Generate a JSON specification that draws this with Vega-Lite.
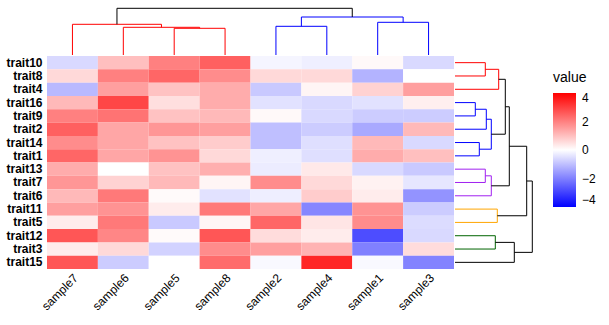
{
  "$schema": "https://vega.github.io/schema/vega-lite/v6.json",
  "padding": {"left": 5, "top": 7, "right": 0, "bottom": 0},
  "config": {"view": {"stroke": null}, "font": "Liberation Sans"},
  "columns": 2,
  "spacing": 0,
  "datasets": {
    "heat": [
      {"trait":"trait10","sample":"sample7","value":-0.6},{"trait":"trait10","sample":"sample6","value":1.0},{"trait":"trait10","sample":"sample5","value":2.0},{"trait":"trait10","sample":"sample8","value":2.5},{"trait":"trait10","sample":"sample2","value":-0.15},{"trait":"trait10","sample":"sample4","value":-0.25},{"trait":"trait10","sample":"sample1","value":0.1},{"trait":"trait10","sample":"sample3","value":-0.6},
      {"trait":"trait8","sample":"sample7","value":0.6},{"trait":"trait8","sample":"sample6","value":2.0},{"trait":"trait8","sample":"sample5","value":2.4},{"trait":"trait8","sample":"sample8","value":1.8},{"trait":"trait8","sample":"sample2","value":0.6},{"trait":"trait8","sample":"sample4","value":0.6},{"trait":"trait8","sample":"sample1","value":-1.2},{"trait":"trait8","sample":"sample3","value":0},
      {"trait":"trait4","sample":"sample7","value":-1.1},{"trait":"trait4","sample":"sample6","value":1.5},{"trait":"trait4","sample":"sample5","value":0.95},{"trait":"trait4","sample":"sample8","value":1.3},{"trait":"trait4","sample":"sample2","value":-0.85},{"trait":"trait4","sample":"sample4","value":0.15},{"trait":"trait4","sample":"sample1","value":0.7},{"trait":"trait4","sample":"sample3","value":1.5},
      {"trait":"trait16","sample":"sample7","value":1.1},{"trait":"trait16","sample":"sample6","value":2.9},{"trait":"trait16","sample":"sample5","value":0.5},{"trait":"trait16","sample":"sample8","value":1.3},{"trait":"trait16","sample":"sample2","value":-0.45},{"trait":"trait16","sample":"sample4","value":-0.6},{"trait":"trait16","sample":"sample1","value":-0.45},{"trait":"trait16","sample":"sample3","value":0.25},
      {"trait":"trait9","sample":"sample7","value":2.0},{"trait":"trait9","sample":"sample6","value":2.2},{"trait":"trait9","sample":"sample5","value":0.95},{"trait":"trait9","sample":"sample8","value":1.1},{"trait":"trait9","sample":"sample2","value":0.1},{"trait":"trait9","sample":"sample4","value":-0.6},{"trait":"trait9","sample":"sample1","value":-0.8},{"trait":"trait9","sample":"sample3","value":-0.8},
      {"trait":"trait2","sample":"sample7","value":2.5},{"trait":"trait2","sample":"sample6","value":1.4},{"trait":"trait2","sample":"sample5","value":1.65},{"trait":"trait2","sample":"sample8","value":1.5},{"trait":"trait2","sample":"sample2","value":-1.0},{"trait":"trait2","sample":"sample4","value":-0.8},{"trait":"trait2","sample":"sample1","value":-1.35},{"trait":"trait2","sample":"sample3","value":1.1},
      {"trait":"trait14","sample":"sample7","value":1.8},{"trait":"trait14","sample":"sample6","value":1.4},{"trait":"trait14","sample":"sample5","value":0.95},{"trait":"trait14","sample":"sample8","value":0.8},{"trait":"trait14","sample":"sample2","value":-1.0},{"trait":"trait14","sample":"sample4","value":-0.5},{"trait":"trait14","sample":"sample1","value":1.1},{"trait":"trait14","sample":"sample3","value":-0.6},
      {"trait":"trait1","sample":"sample7","value":2.4},{"trait":"trait1","sample":"sample6","value":1.4},{"trait":"trait1","sample":"sample5","value":1.7},{"trait":"trait1","sample":"sample8","value":0.6},{"trait":"trait1","sample":"sample2","value":-0.25},{"trait":"trait1","sample":"sample4","value":-0.5},{"trait":"trait1","sample":"sample1","value":1.3},{"trait":"trait1","sample":"sample3","value":1.0},
      {"trait":"trait13","sample":"sample7","value":1.3},{"trait":"trait13","sample":"sample6","value":0},{"trait":"trait13","sample":"sample5","value":0.95},{"trait":"trait13","sample":"sample8","value":1.25},{"trait":"trait13","sample":"sample2","value":-0.3},{"trait":"trait13","sample":"sample4","value":0.35},{"trait":"trait13","sample":"sample1","value":-0.6},{"trait":"trait13","sample":"sample3","value":-0.85},
      {"trait":"trait7","sample":"sample7","value":1.65},{"trait":"trait7","sample":"sample6","value":0.7},{"trait":"trait7","sample":"sample5","value":1.1},{"trait":"trait7","sample":"sample8","value":0.15},{"trait":"trait7","sample":"sample2","value":1.8},{"trait":"trait7","sample":"sample4","value":0.6},{"trait":"trait7","sample":"sample1","value":0.2},{"trait":"trait7","sample":"sample3","value":-0.4},
      {"trait":"trait6","sample":"sample7","value":1.1},{"trait":"trait6","sample":"sample6","value":2.1},{"trait":"trait6","sample":"sample5","value":0.08},{"trait":"trait6","sample":"sample8","value":-0.45},{"trait":"trait6","sample":"sample2","value":-0.27},{"trait":"trait6","sample":"sample4","value":0.8},{"trait":"trait6","sample":"sample1","value":0.3},{"trait":"trait6","sample":"sample3","value":-1.7},
      {"trait":"trait11","sample":"sample7","value":1.5},{"trait":"trait11","sample":"sample6","value":1.7},{"trait":"trait11","sample":"sample5","value":0.3},{"trait":"trait11","sample":"sample8","value":2.1},{"trait":"trait11","sample":"sample2","value":1.4},{"trait":"trait11","sample":"sample4","value":-1.9},{"trait":"trait11","sample":"sample1","value":1.7},{"trait":"trait11","sample":"sample3","value":-0.8},
      {"trait":"trait5","sample":"sample7","value":0.3},{"trait":"trait5","sample":"sample6","value":2.1},{"trait":"trait5","sample":"sample5","value":-0.85},{"trait":"trait5","sample":"sample8","value":0.15},{"trait":"trait5","sample":"sample2","value":2.4},{"trait":"trait5","sample":"sample4","value":0.4},{"trait":"trait5","sample":"sample1","value":1.8},{"trait":"trait5","sample":"sample3","value":-0.55},
      {"trait":"trait12","sample":"sample7","value":2.65},{"trait":"trait12","sample":"sample6","value":1.9},{"trait":"trait12","sample":"sample5","value":0.08},{"trait":"trait12","sample":"sample8","value":2.65},{"trait":"trait12","sample":"sample2","value":0.55},{"trait":"trait12","sample":"sample4","value":0.3},{"trait":"trait12","sample":"sample1","value":-2.8},{"trait":"trait12","sample":"sample3","value":-0.6},
      {"trait":"trait3","sample":"sample7","value":0.3},{"trait":"trait3","sample":"sample6","value":0.6},{"trait":"trait3","sample":"sample5","value":-0.7},{"trait":"trait3","sample":"sample8","value":1.8},{"trait":"trait3","sample":"sample2","value":1.5},{"trait":"trait3","sample":"sample4","value":1.2},{"trait":"trait3","sample":"sample1","value":-2.0},{"trait":"trait3","sample":"sample3","value":0.55},
      {"trait":"trait15","sample":"sample7","value":2.65},{"trait":"trait15","sample":"sample6","value":-0.8},{"trait":"trait15","sample":"sample5","value":0},{"trait":"trait15","sample":"sample8","value":2.3},{"trait":"trait15","sample":"sample2","value":-0.1},{"trait":"trait15","sample":"sample4","value":3.4},{"trait":"trait15","sample":"sample1","value":-0.1},{"trait":"trait15","sample":"sample3","value":-1.95}
    ],
    "topTree": [
      {"k":"k1","p":2.5,"p2":2.5,"h":0,"h2":26.7},
      {"k":"k1","p":3.5,"p2":3.5,"h":0,"h2":26.7},
      {"k":"k1","p":2.5,"p2":3.5,"h":26.7,"h2":26.7},
      {"k":"k1","p":3.0,"p2":3.0,"h":26.7,"h2":27.7},
      {"k":"k1","p":1.5,"p2":1.5,"h":0,"h2":27.7},
      {"k":"k1","p":1.5,"p2":3.0,"h":27.7,"h2":27.7},
      {"k":"k1","p":2.25,"p2":2.25,"h":27.7,"h2":30.7},
      {"k":"k1","p":0.5,"p2":0.5,"h":0,"h2":30.7},
      {"k":"k1","p":0.5,"p2":2.25,"h":30.7,"h2":30.7},
      {"k":"root","p":1.375,"p2":1.375,"h":30.7,"h2":46.7},
      {"k":"k2","p":4.5,"p2":4.5,"h":0,"h2":28.7},
      {"k":"k2","p":5.5,"p2":5.5,"h":0,"h2":28.7},
      {"k":"k2","p":4.5,"p2":5.5,"h":28.7,"h2":28.7},
      {"k":"k2","p":6.5,"p2":6.5,"h":0,"h2":32.7},
      {"k":"k2","p":7.5,"p2":7.5,"h":0,"h2":32.7},
      {"k":"k2","p":6.5,"p2":7.5,"h":32.7,"h2":32.7},
      {"k":"k2","p":5.0,"p2":5.0,"h":28.7,"h2":38},
      {"k":"k2","p":7.0,"p2":7.0,"h":32.7,"h2":38},
      {"k":"k2","p":5.0,"p2":7.0,"h":38,"h2":38},
      {"k":"root","p":6.0,"p2":6.0,"h":38,"h2":46.7},
      {"k":"root","p":1.375,"p2":6.0,"h":46.7,"h2":46.7}
    ],
    "rightTree": [
      {"k":"k1","d":0,"d2":30.3,"p":0.5,"p2":0.5},
      {"k":"k1","d":0,"d2":30.3,"p":1.5,"p2":1.5},
      {"k":"k1","d":30.3,"d2":30.3,"p":0.5,"p2":1.5},
      {"k":"k1","d":0,"d2":43.7,"p":2.5,"p2":2.5},
      {"k":"k1","d":30.3,"d2":43.7,"p":1.0,"p2":1.0},
      {"k":"k1","d":43.7,"d2":43.7,"p":1.0,"p2":2.5},
      {"k":"root","d":43.7,"d2":50.3,"p":1.75,"p2":1.75},
      {"k":"k2","d":0,"d2":20.3,"p":3.5,"p2":3.5},
      {"k":"k2","d":0,"d2":20.3,"p":4.5,"p2":4.5},
      {"k":"k2","d":20.3,"d2":20.3,"p":3.5,"p2":4.5},
      {"k":"k2","d":20.3,"d2":31.3,"p":4.0,"p2":4.0},
      {"k":"k2","d":0,"d2":31.3,"p":5.5,"p2":5.5},
      {"k":"k2","d":31.3,"d2":31.3,"p":4.0,"p2":5.5},
      {"k":"k2","d":0,"d2":24.3,"p":6.5,"p2":6.5},
      {"k":"k2","d":0,"d2":24.3,"p":7.5,"p2":7.5},
      {"k":"k2","d":24.3,"d2":24.3,"p":6.5,"p2":7.5},
      {"k":"k2","d":31.3,"d2":36.3,"p":4.75,"p2":4.75},
      {"k":"k2","d":24.3,"d2":36.3,"p":7.0,"p2":7.0},
      {"k":"k2","d":36.3,"d2":36.3,"p":4.75,"p2":7.0},
      {"k":"root","d":36.3,"d2":50.3,"p":5.875,"p2":5.875},
      {"k":"root","d":50.3,"d2":50.3,"p":1.75,"p2":5.875},
      {"k":"k3","d":0,"d2":30.3,"p":8.5,"p2":8.5},
      {"k":"k3","d":0,"d2":30.3,"p":9.5,"p2":9.5},
      {"k":"k3","d":30.3,"d2":30.3,"p":8.5,"p2":9.5},
      {"k":"k3","d":30.3,"d2":36.3,"p":9.0,"p2":9.0},
      {"k":"k3","d":0,"d2":36.3,"p":10.5,"p2":10.5},
      {"k":"k3","d":36.3,"d2":36.3,"p":9.0,"p2":10.5},
      {"k":"root","d":50.3,"d2":54.3,"p":3.8125,"p2":3.8125},
      {"k":"root","d":36.3,"d2":54.3,"p":9.75,"p2":9.75},
      {"k":"root","d":54.3,"d2":54.3,"p":3.8125,"p2":9.75},
      {"k":"k4","d":0,"d2":42.3,"p":11.5,"p2":11.5},
      {"k":"k4","d":0,"d2":42.3,"p":12.5,"p2":12.5},
      {"k":"k4","d":42.3,"d2":42.3,"p":11.5,"p2":12.5},
      {"k":"root","d":54.3,"d2":71.7,"p":6.78,"p2":6.78},
      {"k":"root","d":42.3,"d2":71.7,"p":12.0,"p2":12.0},
      {"k":"root","d":71.7,"d2":71.7,"p":6.78,"p2":12.0},
      {"k":"k5","d":0,"d2":40.3,"p":13.5,"p2":13.5},
      {"k":"k5","d":0,"d2":40.3,"p":14.5,"p2":14.5},
      {"k":"k5","d":40.3,"d2":40.3,"p":13.5,"p2":14.5},
      {"k":"root","d":40.3,"d2":59.3,"p":14.0,"p2":14.0},
      {"k":"root","d":0,"d2":59.3,"p":15.5,"p2":15.5},
      {"k":"root","d":59.3,"d2":59.3,"p":14.0,"p2":15.5},
      {"k":"root","d":71.7,"d2":77.3,"p":9.39,"p2":9.39},
      {"k":"root","d":59.3,"d2":77.3,"p":14.75,"p2":14.75},
      {"k":"root","d":77.3,"d2":77.3,"p":9.39,"p2":14.75}
    ]
  },
  "concat": [
    {
      "width": 407, "height": 47,
      "data": {"name": "topTree"},
      "mark": {"type": "rule", "strokeWidth": 1},
      "encoding": {
        "x": {"field": "p", "type": "quantitative", "scale": {"domain": [0, 8], "nice": false, "zero": false}, "axis": null},
        "x2": {"field": "p2"},
        "y": {"field": "h", "type": "quantitative", "scale": {"domain": [0, 47], "nice": false, "zero": false}, "axis": null},
        "y2": {"field": "h2"},
        "stroke": {"field": "k", "type": "nominal", "scale": {"domain": ["k1","k2","k3","k4","k5","root"], "range": ["#ff0000","#0000ff","#a020f0","#ffa500","#006400","#000000"]}, "legend": null}
      }
    },
    {
      "width": 78, "height": 47,
      "data": {"values": [{}]},
      "mark": {"type": "point", "opacity": 0},
      "encoding": {}
    },
    {
      "width": 407, "height": 213,
      "data": {"name": "heat"},
      "mark": {"type": "rect"},
      "encoding": {
        "x": {"field": "sample", "type": "nominal",
          "sort": ["sample7","sample6","sample5","sample8","sample2","sample4","sample1","sample3"],
          "scale": {"paddingInner": 0, "paddingOuter": 0},
          "axis": {"title": null, "labelAngle": -45, "ticks": false, "domain": false, "labelFontSize": 12, "labelColor": "#000000", "labelPadding": 3}},
        "y": {"field": "trait", "type": "nominal",
          "sort": ["trait10","trait8","trait4","trait16","trait9","trait2","trait14","trait1","trait13","trait7","trait6","trait11","trait5","trait12","trait3","trait15"],
          "scale": {"paddingInner": 0, "paddingOuter": 0},
          "axis": {"title": null, "ticks": false, "domain": false, "labelFontSize": 12, "labelFontWeight": "bold", "labelColor": "#000000", "labelPadding": 5}},
        "color": {"field": "value", "type": "quantitative",
          "scale": {"domain": [-4, 0, 4], "range": ["#0000ff", "#ffffff", "#ff0000"], "interpolate": "rgb"},
          "legend": {"title": "value", "orient": "none", "legendX": 506, "legendY": 63, "values": [-4, -2, 0, 2, 4],
            "gradientLength": 114, "gradientThickness": 23, "gradientStrokeWidth": 0,
            "titleFontSize": 14, "titleFontWeight": "normal", "titleColor": "#000000", "titlePadding": 8,
            "labelFontSize": 12, "labelColor": "#000000", "labelOffset": 6}}
      }
    },
    {
      "width": 78, "height": 213,
      "data": {"name": "rightTree"},
      "mark": {"type": "rule", "strokeWidth": 1},
      "encoding": {
        "x": {"field": "d", "type": "quantitative", "scale": {"domain": [0, 78], "nice": false, "zero": false}, "axis": null},
        "x2": {"field": "d2"},
        "y": {"field": "p", "type": "quantitative", "scale": {"domain": [0, 16], "reverse": true, "nice": false, "zero": false}, "axis": null},
        "y2": {"field": "p2"},
        "stroke": {"field": "k", "type": "nominal", "scale": {"domain": ["k1","k2","k3","k4","k5","root"], "range": ["#ff0000","#0000ff","#a020f0","#ffa500","#006400","#000000"]}, "legend": null}
      }
    }
  ]
}
